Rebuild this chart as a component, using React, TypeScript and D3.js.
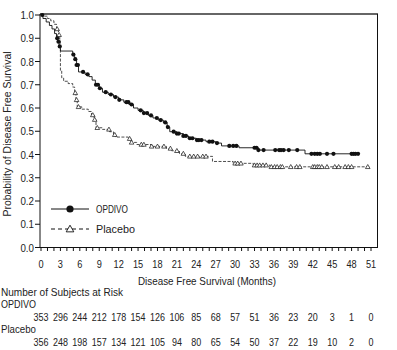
import React from 'react';
import * as d3 from 'd3';

// Kaplan-Meier steps (months, survival after the step)
const opdivoTimes = [0, 0.3, 0.8, 1.3, 1.7, 2.1, 2.4, 2.6, 2.8, 3.0, 4.9, 5.2, 5.5, 5.8, 6.8, 7.4, 7.9, 8.4, 9.0, 9.5, 10.4, 11.2, 12.0, 12.8, 13.6, 14.3, 15.0, 15.8, 16.6, 17.3, 18.1, 18.9, 19.5, 19.9, 21.0, 22.0, 22.8, 24.0, 25.5, 27.0, 27.9, 30.6, 33.6, 40.8];
const opdivoSurv = [1.0, 0.985, 0.97, 0.955, 0.94, 0.92, 0.9, 0.885, 0.865, 0.845, 0.83, 0.81, 0.785, 0.755, 0.745, 0.735, 0.72, 0.7, 0.685, 0.668, 0.658, 0.647, 0.635, 0.625, 0.615, 0.6, 0.59, 0.578, 0.568, 0.557, 0.548, 0.538, 0.518, 0.498, 0.49, 0.48, 0.47, 0.462, 0.455, 0.449, 0.437, 0.429, 0.419, 0.403];
const opdivoEnd = 49;
const opdivoCensored = [0.2, 2.5, 2.7, 2.9, 5.0, 5.3, 5.5, 5.7, 6.5, 7.2, 8.5, 8.8, 9.1, 10.0, 10.8, 11.5, 12.1, 13.2, 13.5, 14.0, 15.4, 15.9, 16.4, 17.0, 17.9, 18.5, 19.2, 19.6, 20.5, 21.0, 21.3, 22.0, 22.4, 23.0, 23.4, 24.1, 24.4, 24.8, 26.0, 26.5, 27.2, 29.1, 29.7, 30.2, 33.0, 33.3, 33.6, 34.4, 36.2, 36.8, 37.1, 37.5, 38.3, 39.6, 41.8, 42.3, 42.7, 43.1, 44.2, 45.2, 48.0, 48.3, 48.6, 49.0];

const placeboTimes = [0, 0.5, 1.0, 1.5, 2.0, 2.4, 2.7, 2.9, 3.0, 3.2, 3.5, 4.2, 4.9, 5.2, 5.4, 5.6, 6.3, 7.3, 7.8, 8.2, 8.5, 9.5, 10.6, 11.2, 11.5, 13.5, 13.9, 14.8, 17.0, 19.4, 20.2, 21.4, 22.3, 26.5, 29.7, 32.8, 35.4];
const placeboSurv = [1.0, 0.995, 0.985, 0.975, 0.96, 0.94, 0.915, 0.89, 0.76, 0.73, 0.715, 0.705, 0.69, 0.665, 0.635, 0.605, 0.595, 0.585, 0.57, 0.55, 0.515, 0.508, 0.498, 0.485, 0.475, 0.468, 0.452, 0.443, 0.435, 0.426, 0.416, 0.404, 0.392, 0.37, 0.362, 0.354, 0.347];
const placeboEnd = 50.8;
const placeboCensored = [2.5, 2.8, 5.3, 5.5, 5.8, 8.0, 8.3, 8.7, 10.5, 11.4, 13.7, 14.0, 15.5, 15.9, 17.1, 18.0, 19.0, 20.0, 21.0, 22.0, 23.0, 23.6, 24.2, 25.0, 25.5, 30.0, 30.4, 30.9, 33.0, 33.4, 33.8, 34.3, 34.8, 35.6, 36.1, 36.5, 37.0, 37.3, 38.6, 39.5, 40.0, 42.0, 42.3, 42.7, 43.0, 43.4, 44.2, 45.4, 46.0, 47.0, 47.5, 48.0, 50.5];

const xTicks = d3.range(0, 52, 3);
const xMinorTicks = d3.range(0, 52, 1);
const yTicks = [0, 0.1, 0.2, 0.3, 0.4, 0.5, 0.6, 0.7, 0.8, 0.9, 1.0];
const opdivoAtRisk = [353, 296, 244, 212, 178, 154, 126, 106, 85, 68, 57, 51, 36, 23, 20, 3, 1, 0];
const placeboAtRisk = [356, 248, 198, 157, 134, 121, 105, 94, 80, 65, 54, 50, 37, 22, 19, 10, 2, 0];

const font = '"Liberation Sans", Arial, sans-serif';
const fs = 11.5;
const ink = '#222';

const x = d3.scaleLinear().domain([0, 51]).range([41, 371]);
const y = d3.scaleLinear().domain([0, 1]).range([247.5, 15]);

const stepLine = d3.line<[number, number]>()
  .x(d => x(d[0]))
  .y(d => y(d[1]))
  .curve(d3.curveStepAfter);

function curvePoints(times: number[], surv: number[], end: number): [number, number][] {
  const pts: [number, number][] = times.map((t, i) => [t, surv[i]]);
  pts.push([end, surv[surv.length - 1]]);
  return pts;
}

function survAt(times: number[], surv: number[], t: number) {
  const i = d3.bisectRight(times, t) - 1;
  return surv[Math.max(0, i)];
}

const tri = (cx: number, cy: number, s: number) =>
  `M${cx},${cy - s}L${cx + s},${cy + s * 0.75}L${cx - s},${cy + s * 0.75}Z`;

// condensed-looking text: squeezed horizontally, or fitted to a width
const Txt = ({ x, y, sx = 0.8, anchor = 'start', rotate = 0, width, children }: any) =>
  width ? (
    <text
      transform={`translate(${x},${y}) rotate(${rotate})`}
      textAnchor={anchor}
      fontSize={fs}
      fill={ink}
      textLength={width}
      lengthAdjust="spacingAndGlyphs"
    >
      {children}
    </text>
  ) : (
    <text
      transform={`translate(${x},${y}) rotate(${rotate}) scale(${sx},1)`}
      textAnchor={anchor}
      fontSize={fs}
      fill={ink}
    >
      {children}
    </text>
  );

export default function App() {
  const opdivoPts = curvePoints(opdivoTimes, opdivoSurv, opdivoEnd);
  const placeboPts = curvePoints(placeboTimes, placeboSurv, placeboEnd);

  return (
    <svg width={397} height={350} style={{ position: 'absolute', left: 0, top: 0 }} fontFamily={font}>
      <rect width={397} height={350} fill="#fff" />
      {/* frame */}
      <line x1={40} x2={378} y1={14} y2={14} stroke="#333" strokeWidth={1.6} />
      <line x1={377.5} x2={377.5} y1={14} y2={247.5} stroke="#111" strokeWidth={1} />
      <line x1={40} x2={40} y1={14} y2={248} stroke="#111" strokeWidth={1} />
      <line x1={40} x2={378} y1={247.5} y2={247.5} stroke="#111" strokeWidth={1} />

      {/* y axis */}
      {yTicks.map(t => (
        <g key={t}>
          <line x1={35} x2={40} y1={y(t)} y2={y(t)} stroke="#111" />
          <Txt x={34} y={y(t) + 4} anchor="end" sx={0.85}>{t.toFixed(1)}</Txt>
        </g>
      ))}
      <Txt x={11} y={134} rotate={-90} anchor="middle" width={165}>
        Probability of Disease Free Survival
      </Txt>

      {/* x axis */}
      {xMinorTicks.map(t => (
        <line key={t} x1={x(t)} x2={x(t)} y1={247.5} y2={251} stroke="#111" />
      ))}
      {xTicks.map(t => (
        <Txt key={t} x={x(t)} y={268} anchor="middle" sx={0.8}>{t}</Txt>
      ))}
      <Txt x={138} y={285} width={138}>Disease Free Survival (Months)</Txt>

      {/* curves */}
      <path d={stepLine(placeboPts) ?? ''} fill="none" stroke="#222" strokeWidth={0.8} strokeDasharray="3,1.5" />
      <path d={stepLine(opdivoPts) ?? ''} fill="none" stroke="#111" strokeWidth={0.9} />
      {placeboCensored.map((t, i) => (
        <path key={i} d={tri(x(t), y(survAt(placeboTimes, placeboSurv, t)), 2.3)} fill="#fff" stroke="#111" strokeWidth={0.7} />
      ))}
      {opdivoCensored.map((t, i) => (
        <circle key={i} cx={x(t)} cy={y(survAt(opdivoTimes, opdivoSurv, t))} r={2.1} fill="#111" />
      ))}

      {/* legend */}
      <line x1={51} x2={89} y1={209} y2={209} stroke="#111" strokeWidth={1} />
      <circle cx={70} cy={209} r={3.6} fill="#111" />
      <Txt x={96} y={213} width={32}>OPDIVO</Txt>
      <line x1={51} x2={89} y1={229} y2={229} stroke="#111" strokeWidth={1} strokeDasharray="4,3" />
      <path d={tri(70, 229, 3.8)} fill="#fff" stroke="#111" strokeWidth={0.9} />
      <Txt x={96} y={233} width={39}>Placebo</Txt>

      {/* number at risk */}
      <Txt x={1} y={296} width={122}>Number of Subjects at Risk</Txt>
      <Txt x={1} y={308} width={35}>OPDIVO</Txt>
      {opdivoAtRisk.map((v, i) => (
        <Txt key={i} x={x(xTicks[i])} y={321} anchor="middle" sx={0.78}>{v}</Txt>
      ))}
      <Txt x={1} y={333} width={35}>Placebo</Txt>
      {placeboAtRisk.map((v, i) => (
        <Txt key={i} x={x(xTicks[i])} y={346} anchor="middle" sx={0.78}>{v}</Txt>
      ))}
    </svg>
  );
}
